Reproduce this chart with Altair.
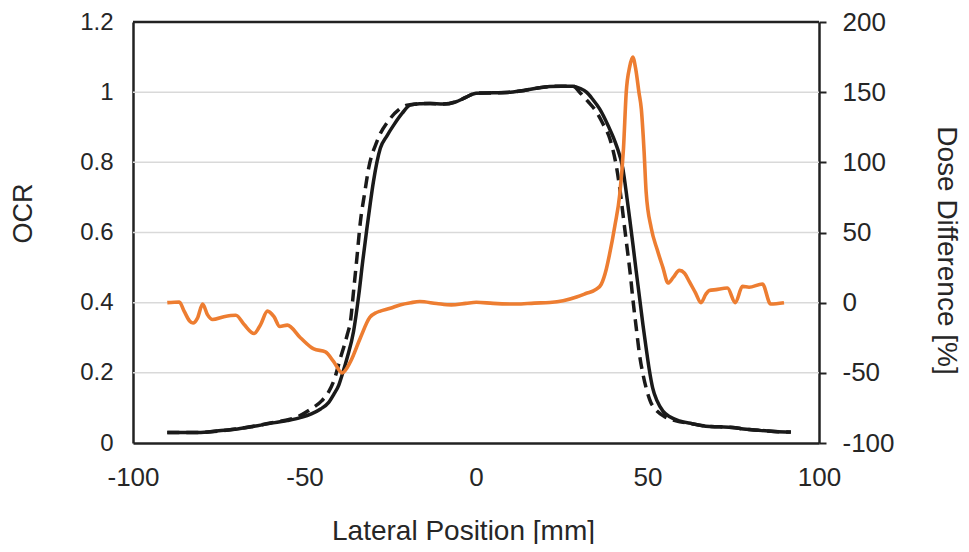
import altair as alt
import pandas as pd

# Measured OCR (solid black)
meas_x = [-90, -81, -75, -69.5, -65, -60, -55, -51, -48, -45.3, -43, -41.5, -40, -39, -37.5,
          -35.7, -34.2, -33, -31.8, -30.8, -29.9, -27.9, -26, -24, -21.5, -19.2, -16, -13.4,
          -9.5, -6, -3, 0, 5, 10, 14, 18, 21.5, 25, 28.3, 30.5, 32.2, 34, 36, 38.5,
          40.9, 42.8, 44, 44.8, 45.7, 46.7, 47.7, 48.7, 49.6, 50.5, 51.5, 52.8, 54.5, 56.5,
          59.3, 63, 67, 71, 74.8, 78, 82.6, 87, 91.8]
meas_y = [0.03, 0.03, 0.035, 0.04, 0.047, 0.056, 0.064, 0.073, 0.083, 0.097, 0.115, 0.138,
          0.165, 0.195, 0.245, 0.318, 0.42, 0.52, 0.612, 0.685, 0.745, 0.84, 0.875, 0.906,
          0.94, 0.963, 0.967, 0.968, 0.966, 0.972, 0.985, 0.997, 0.998, 1.0, 1.005,
          1.012, 1.016, 1.017, 1.017, 1.01, 1.0, 0.98, 0.953, 0.905, 0.849, 0.783, 0.70,
          0.64, 0.57, 0.49, 0.413, 0.335, 0.271, 0.21, 0.157, 0.12, 0.091, 0.075, 0.063,
          0.055, 0.048, 0.046, 0.044, 0.04, 0.036, 0.033, 0.031]

# Calculated OCR (dashed black)
calc_x = [-90, -81, -70, -60, -52, -48.3, -45, -43, -41.5, -39.5, -37.5, -36.6, -35.7, -34.7,
          -33.7, -32.5, -31.3, -28.9, -25, -22.5, -20.1, -16, -13.4, -9.5, -6, -3, 0,
          5, 10, 14, 18, 21.5, 25, 28.3, 30.2, 32.5, 35.1, 37, 39, 40.9, 42, 43, 44, 45, 45.7,
          46.7, 47.7, 48.7, 49.6, 51, 52, 55, 58.3, 63, 67, 71, 74.8, 78, 82.6, 87, 91.8]
calc_y = [0.03, 0.03, 0.04, 0.057, 0.075, 0.096, 0.12, 0.145, 0.176, 0.243, 0.31, 0.347,
          0.432, 0.53, 0.631, 0.71, 0.783, 0.859, 0.925, 0.95, 0.963, 0.967, 0.968, 0.966,
          0.972, 0.985, 0.997, 0.998, 1.0, 1.005, 1.012, 1.016, 1.017, 1.017, 1.0, 0.975,
          0.944, 0.91, 0.868, 0.79, 0.72, 0.64, 0.56, 0.48, 0.413, 0.33, 0.25, 0.195, 0.157,
          0.115, 0.1, 0.075, 0.063, 0.055, 0.048, 0.046, 0.044, 0.04, 0.036, 0.033, 0.031]

# Dose difference [%] (orange, right axis)
diff_x = [-90, -86.5, -85.1, -83.5, -82.5, -81.2, -79.7, -78.3, -76.8, -73.5, -70, -67.6,
          -64.7, -62.8, -60.8, -58.9, -57.2, -55, -51.2, -47.3, -43.9, -41.5, -39, -36.6,
          -33.7, -31, -29, -27.9, -25, -22.2, -19, -16.4, -11.5, -7.2, -3, 0.1, 5, 11.8, 17,
          21.5, 25.4, 29.3, 32, 35.1, 36.5, 38, 38.9, 40.5, 41.9, 43, 43.8, 44.8, 45.7, 46.6,
          47.5, 48.2, 49, 49.6, 51.1, 52.8, 54.5, 56, 57.5, 59.3, 60.8, 62.2, 64, 65.6, 67,
          68, 70, 73.3, 75.6, 77.7, 79.6, 83.5, 85.9, 89.8]
diff_y = [0, 0.5, -6, -13, -14.5, -11, -1, -8.5, -12, -10, -9, -15.6, -22, -15.6, -6, -10,
          -17, -16, -25, -33, -35, -42, -50, -42, -25, -10.6, -7, -6, -4, -1.6, 0, 0.8, -0.6,
          -1.6, -0.5, 0.3, -0.5, -1, -0.3, 0.1, 1.3, 4, 6.5, 9.6, 13, 24, 34, 55, 77, 110, 150,
          168, 175, 166, 150, 138, 108, 79, 53, 38, 25, 14, 18, 23, 21, 15, 7, 0, 6, 8.6, 9.3,
          10.4, 0, 11.6, 11, 13.3, -1, 0]

x_ticks = [-100, -50, 0, 50, 100]
ocr_ticks = [0, 0.2, 0.4, 0.6, 0.8, 1, 1.2]
diff_ticks = [-100, -50, 0, 50, 100, 150, 200]
grid_vals = [0.2, 0.4, 0.6, 0.8, 1.0]
frame_top = [1.2]

meas = pd.DataFrame({"x": meas_x, "y": meas_y})
calc = pd.DataFrame({"x": calc_x, "y": calc_y})
diff = pd.DataFrame({"x": diff_x, "d": diff_y})
grid = pd.DataFrame({"g": grid_vals})
top = pd.DataFrame({"g": frame_top})

FONT = "Liberation Sans"
TXT = "#262626"
FRAME = "#222222"
W, H = 686, 421

xscale = alt.Scale(domain=[-100, 100], nice=False)
yscale = alt.Scale(domain=[0, 1.2], nice=False)
dscale = alt.Scale(domain=[-100, 200], nice=False)

xaxis = alt.Axis(values=x_ticks, title="Lateral Position [mm]",
                 labelExpr="datum.value + ''", labelFlush=False,
                 grid=False, ticks=False, domain=True, domainColor=FRAME, domainWidth=2.5,
                 labelPadding=21,
                 labelFontSize=26, labelFont=FONT, labelColor=TXT,
                 titleFontSize=28, titleFont=FONT, titleColor=TXT, titleFontWeight="normal",
                 titleX=330, titleY=88, titleAnchor="middle", titleAlign="center",
                 titleBaseline="middle")

left_axis = alt.Axis(values=ocr_ticks, title="OCR",
                     labelExpr="datum.value + ''", labelFlush=False,
                     grid=False, ticks=False, domain=True, domainColor=FRAME, domainWidth=2.5,
                     labelPadding=20,
                     labelFontSize=24, labelFont=FONT, labelColor=TXT,
                     titleFontSize=27, titleFont=FONT, titleColor=TXT,
                     titleFontWeight="normal", titleAngle=-90, titleX=-110, titleY=191,
                     titleAlign="center", titleBaseline="middle")

right_axis = alt.Axis(values=diff_ticks, title="Dose Difference [%]",
                      labelExpr="datum.value + ''", labelFlush=False,
                      orient="right", grid=False, ticks=True, tickColor=FRAME,
                      tickWidth=2, tickSize=7, domain=True, domainColor=FRAME,
                      domainWidth=2.5, labelPadding=16,
                      labelFontSize=26, labelFont=FONT, labelColor=TXT,
                      titleFontSize=28, titleFont=FONT, titleColor=TXT,
                      titleFontWeight="normal", titleAngle=90, titleX=126, titleY=228,
                      titleAlign="center", titleBaseline="middle")

gridlines = alt.Chart(grid).mark_rule(color="#d9d9d9", strokeWidth=1.5).encode(
    y=alt.Y("g:Q", scale=yscale, axis=left_axis),
)
topline = alt.Chart(top).mark_rule(color=FRAME, strokeWidth=2.5).encode(
    y=alt.Y("g:Q", scale=yscale),
)
solid = alt.Chart(meas).mark_line(color="#1a1a1a", strokeWidth=3.5,
                                  interpolate="monotone").encode(
    x=alt.X("x:Q", scale=xscale, axis=xaxis),
    y=alt.Y("y:Q", scale=yscale),
)
dashed = alt.Chart(calc).mark_line(color="#1a1a1a", strokeWidth=3.5,
                                   strokeDash=[12, 7], interpolate="monotone").encode(
    x=alt.X("x:Q", scale=xscale),
    y=alt.Y("y:Q", scale=yscale),
)
left = alt.layer(gridlines, topline, solid, dashed)

orange = alt.Chart(diff).mark_line(color="#ED7D31", strokeWidth=3.6,
                                   interpolate="monotone").encode(
    x=alt.X("x:Q", scale=xscale),
    y=alt.Y("d:Q", scale=dscale, axis=right_axis),
)

chart = alt.layer(left, orange).resolve_scale(y="independent").properties(
    width=W, height=H,
    autosize=alt.AutoSizeParams(type="none"),
    padding={"left": 125, "top": 14, "right": 142, "bottom": 101},
).configure_view(stroke=None).configure(background="white")

chart.save("out.html", embed_options={"renderer": "svg", "actions": False})
